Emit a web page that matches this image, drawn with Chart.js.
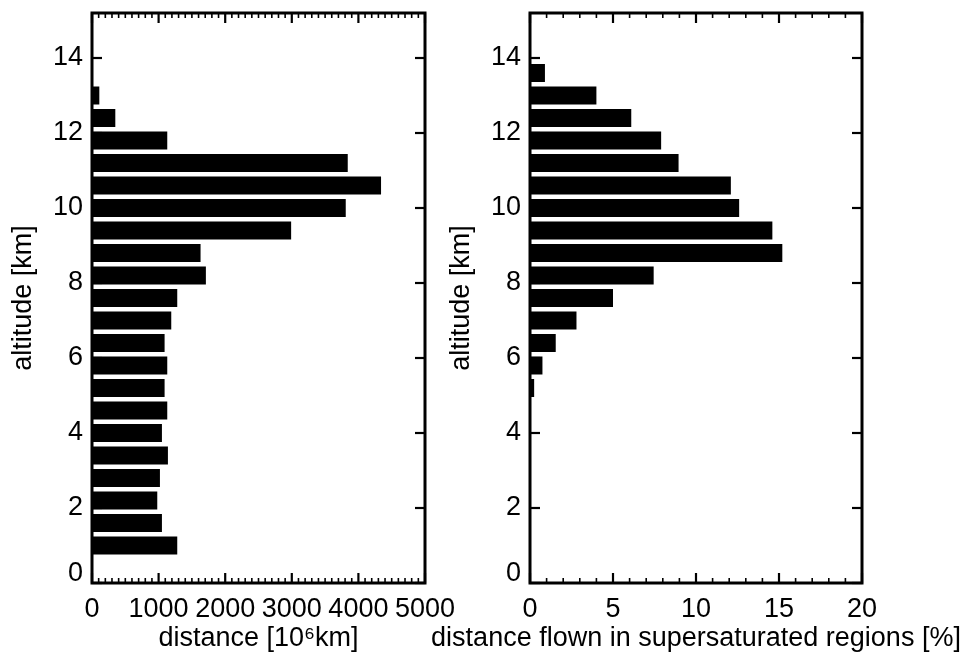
<!DOCTYPE html>
<html>
<head>
<meta charset="utf-8">
<script src="https://cdn.jsdelivr.net/npm/chart.js@4.4.1/dist/chart.umd.min.js"></script>
<style>
  html, body { margin: 0; padding: 0; background: #fff; }
  #wrap { position: relative; width: 968px; height: 654px; overflow: hidden; }
  #wrap canvas { position: absolute; left: 0; top: 0; }
</style>
</head>
<body>
<div id="wrap">
  <canvas id="distChart" width="968" height="654"></canvas>
  <canvas id="supersatChart" width="968" height="654"></canvas>
</div>
<script>
// Altitude bins (km), bottom to top
const altitudeKm = [0.4, 1.0, 1.6, 2.2, 2.8, 3.4, 4.0, 4.6, 5.2, 5.8, 6.4, 7.0,
                    7.6, 8.2, 8.8, 9.4, 10.0, 10.6, 11.2, 11.8, 12.4, 13.0, 13.6, 14.2];

// Total distance flown per altitude bin (10^6 km)
const distanceFlown = [0, 1280, 1050, 980, 1020, 1140, 1050, 1130, 1090, 1130, 1090, 1190,
                       1280, 1710, 1630, 2990, 3810, 4340, 3840, 1130, 350, 110, 0, 0];

// Share of distance flown in ice-supersaturated regions per bin (%)
const supersatPercent = [0, 0, 0, 0, 0, 0, 0, 0, 0.25, 0.75, 1.55, 2.8,
                         5.0, 7.45, 15.2, 14.6, 12.6, 12.1, 8.95, 7.9, 6.1, 4.0, 0.9, 0];

// Axis tick values
const altitudeTicks = [0, 2, 4, 6, 8, 10, 12, 14];
const distanceTicks = [0, 1000, 2000, 3000, 4000, 5000];
const percentTicks = [0, 5, 10, 15, 20];

const FONT = "'Liberation Sans', Arial, Helvetica, sans-serif";

// Closed frame with inward-pointing tick marks on all four sides,
// plus the x-axis title centred under the frame (it may be wider than the plot)
const frameTicks = {
  id: 'frameTicks',
  afterDatasetsDraw(chart, args, opts) {
    const { ctx, chartArea: a, scales: { x, y } } = chart;
    ctx.save();
    ctx.strokeStyle = '#000';
    const seg = (x1, y1, x2, y2, w) => {
      ctx.lineWidth = w;
      ctx.beginPath();
      ctx.moveTo(x1, y1);
      ctx.lineTo(x2, y2);
      ctx.stroke();
    };
    const nMinor = Math.round((x.max - x.min) / opts.minorStep);
    for (let i = 0; i <= nMinor; i++) {
      const v = x.min + i * opts.minorStep;
      const major = i % opts.minorPerMajor === 0;
      const len = major ? 10 : 5;
      const px = x.getPixelForValue(v);
      seg(px, a.bottom, px, a.bottom - len, major ? 2.2 : 1.6);
      seg(px, a.top, px, a.top + len, major ? 2.2 : 1.6);
    }
    y.ticks.forEach(t => {
      const py = y.getPixelForValue(t.value);
      seg(a.left, py, a.left + 10, py, 2.2);
      seg(a.right, py, a.right - 10, py, 2.2);
    });
    ctx.lineWidth = 3;
    ctx.strokeRect(a.left, a.top, a.right - a.left, a.bottom - a.top);

    ctx.fillStyle = '#000';
    ctx.font = '27px ' + FONT;
    ctx.textAlign = 'center';
    ctx.textBaseline = 'middle';
    ctx.fillText(opts.title, (a.left + a.right) / 2, a.bottom + 56);
    ctx.restore();
  }
};

function makeChart(id, values, xTicks, minorStep, minorPerMajor, xTitle, pad) {
  const xStep = xTicks[1] - xTicks[0];
  return new Chart(document.getElementById(id), {
    type: 'bar',
    data: {
      datasets: [{
        data: altitudeKm.map((alt, i) => ({ x: values[i], y: alt })),
        backgroundColor: '#000',
        borderWidth: 0,
        categoryPercentage: 1.0,
        barPercentage: 0.8
      }]
    },
    options: {
      indexAxis: 'y',
      responsive: false,
      animation: false,
      devicePixelRatio: 1,
      layout: { padding: pad },
      plugins: {
        legend: { display: false },
        tooltip: { enabled: false },
        frameTicks: { minorStep, minorPerMajor, title: xTitle }
      },
      scales: {
        x: {
          type: 'linear',
          position: 'bottom',
          min: xTicks[0],
          max: xTicks[xTicks.length - 1],
          grid: { display: false, drawTicks: false },
          border: { display: false },
          ticks: {
            stepSize: xStep,
            maxRotation: 0,
            autoSkip: false,
            padding: 10,
            color: '#000',
            callback: v => String(v),
            font: { family: FONT, size: 27 }
          },
          afterFit: s => { s.height = 71; }
        },
        y: {
          type: 'linear',
          position: 'left',
          offset: false,
          min: 0,
          max: 15.2,
          grid: { display: false, drawTicks: false },
          border: { display: false },
          afterBuildTicks: s => { s.ticks = altitudeTicks.map(v => ({ value: v })); },
          ticks: {
            autoSkip: false,
            padding: 9,
            color: '#000',
            // the zero label is lifted clear of the bottom axis
            callback: v => (v === 0 ? ['0', ''] : String(v)),
            font: ctx => (ctx.tick && ctx.tick.value === 0)
              ? { family: FONT, size: 27, lineHeight: 0.7 }
              : { family: FONT, size: 27 }
          },
          title: {
            display: true,
            text: 'altitude [km]',
            color: '#000',
            padding: { top: 7, bottom: 0 },
            font: { family: FONT, size: 27 }
          },
          afterFit: s => { s.width = 92; s.paddingTop = 0; s.paddingBottom = 0; }
        }
      }
    },
    plugins: [frameTicks]
  });
}

makeChart('distChart', distanceFlown, distanceTicks, 100, 10,
  'distance [10\u2076km]', { left: 0, right: 543, top: 13, bottom: 0 });

makeChart('supersatChart', supersatPercent, percentTicks, 1, 5,
  'distance flown in supersaturated regions [%]', { left: 438, right: 106, top: 13, bottom: 0 });
</script>
</body>
</html>
